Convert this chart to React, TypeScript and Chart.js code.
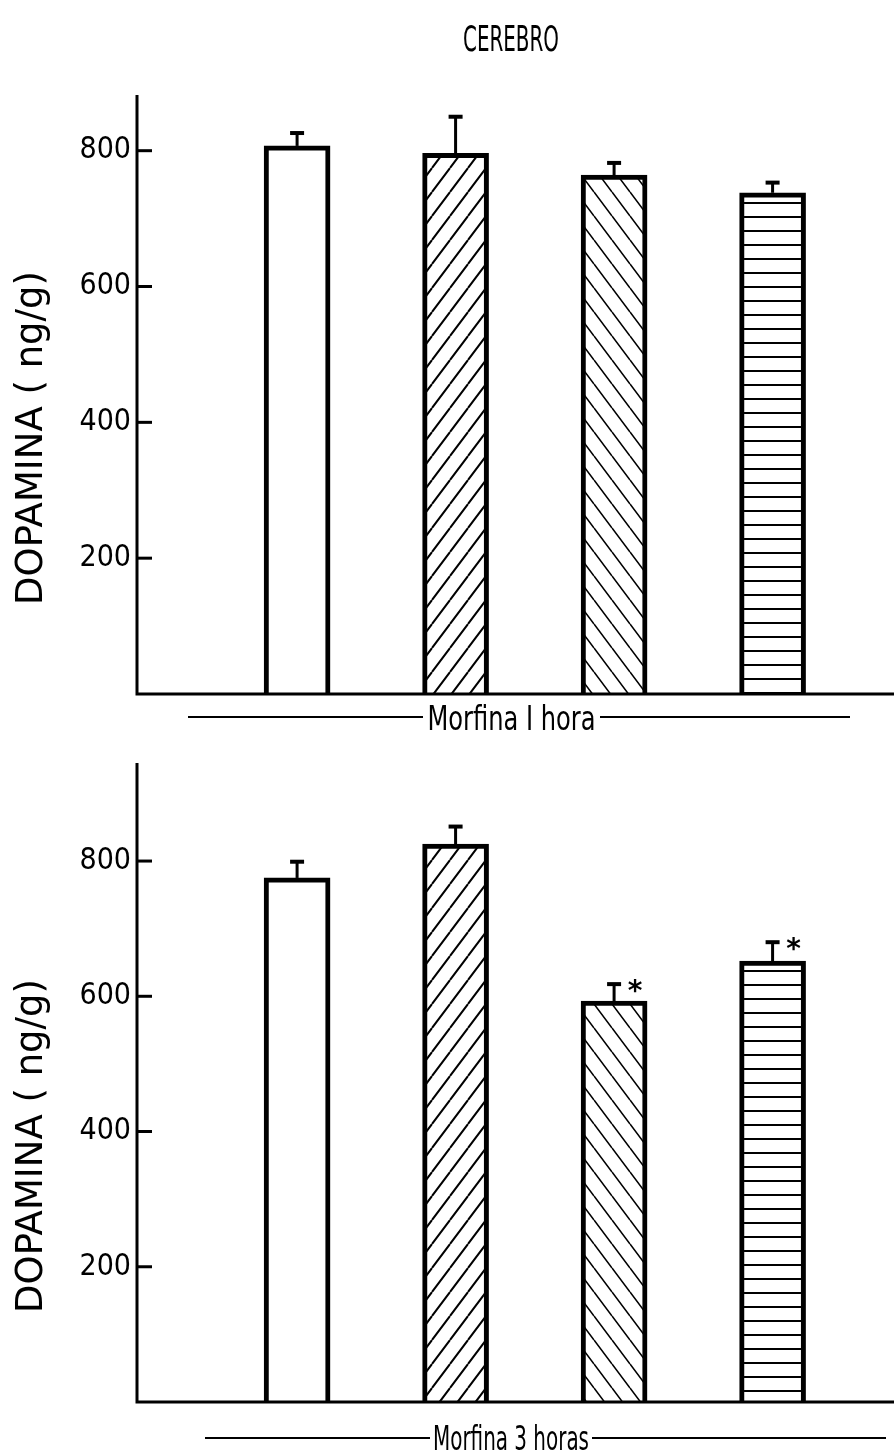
import React, { useEffect, useRef } from 'react';
import { Chart, registerables } from 'chart.js';

Chart.register(...registerables);

// ---- data ----
const GROUPS = ['Grupo 1', 'Grupo 2', 'Grupo 3', 'Grupo 4'];
const GROUP_INDEX = [1, 2, 3, 4];
const Y_TICKS = [200, 400, 600, 800];
const TITLE = 'CEREBRO';
const Y_TITLE = 'DOPAMINA ( ng/g)';
const PANEL1_LABEL = 'Morfina I hora';
const PANEL2_LABEL = 'Morfina 3 horas';
const PANEL1_MEANS = [807, 796, 764, 738];
const PANEL1_SEM = [19, 54, 18, 15];
const PANEL1_SIGNIF = [false, false, false, false];
const PANEL2_MEANS = [775, 825, 593, 652];
const PANEL2_SEM = [24, 26, 25, 28];
const PANEL2_SIGNIF = [false, false, true, true];
const FILLS = ['none', 'fwd', 'back', 'horiz'];

type Panel = {
  top: number;
  height: number;
  padTop: number;
  padBottom: number;
  yMax: number;
  means: number[];
  sem: number[];
  signif: boolean[];
  label: string;
  labelY: number;
  labelWidth: number;
  lineL: [number, number];
  lineR: [number, number];
  lineY: number;
  showTitle: boolean;
};

const PANELS: Panel[] = [
  {
    top: 0, height: 740, padTop: 95, padBottom: 46, yMax: 882,
    means: PANEL1_MEANS, sem: PANEL1_SEM, signif: PANEL1_SIGNIF,
    label: PANEL1_LABEL, labelY: 730, labelWidth: 168,
    lineL: [188, 423], lineR: [600, 850], lineY: 717, showTitle: true,
  },
  {
    top: 740, height: 714, padTop: 23, padBottom: 52, yMax: 945,
    means: PANEL2_MEANS, sem: PANEL2_SEM, signif: PANEL2_SIGNIF,
    label: PANEL2_LABEL, labelY: 1450, labelWidth: 156,
    lineL: [205, 430], lineR: [592, 886], lineY: 1438, showTitle: false,
  },
];

function makeFill(kind: string): any {
  if (kind === 'none') return '#ffffff';
  const c = document.createElement('canvas');
  let w = 18, h = 24;
  if (kind === 'horiz') { w = 8; h = 14; }
  c.width = w; c.height = h;
  const g = c.getContext('2d')!;
  g.fillStyle = '#fff';
  g.fillRect(0, 0, w, h);
  g.strokeStyle = '#000';
  g.lineWidth = kind === 'back' ? 1.6 : 2;
  g.beginPath();
  if (kind === 'fwd') {
    for (const dx of [-w, 0, w]) { g.moveTo(dx, h); g.lineTo(dx + w, 0); }
  } else if (kind === 'back') {
    for (const dx of [-w, 0, w]) { g.moveTo(dx, 0); g.lineTo(dx + w, h); }
  } else {
    g.moveTo(0, h / 2); g.lineTo(w, h / 2);
  }
  g.stroke();
  return g.createPattern(c, 'repeat');
}

function PanelChart({ p }: { p: Panel }) {
  const ref = useRef<HTMLCanvasElement>(null);
  useEffect(() => {
    const canvas = ref.current!;
    const decor = {
      id: 'decor',
      afterDatasetsDraw(chart: any) {
        const ctx = chart.ctx as CanvasRenderingContext2D;
        const ca = chart.chartArea;
        const ys = chart.scales.y;
        ctx.save();
        ctx.strokeStyle = '#000';
        ctx.fillStyle = '#000';
        ctx.lineCap = 'butt';
        // axes
        ctx.lineWidth = 3;
        ctx.beginPath();
        ctx.moveTo(ca.left, ca.top);
        ctx.lineTo(ca.left, ca.bottom + 1.5);
        ctx.moveTo(ca.left - 1.5, ca.bottom);
        ctx.lineTo(ca.right, ca.bottom);
        ctx.stroke();
        // tick marks (inside)
        ctx.lineWidth = 3;
        for (const v of Y_TICKS) {
          const py = ys.getPixelForValue(v);
          ctx.beginPath();
          ctx.moveTo(ca.left, py);
          ctx.lineTo(ca.left + 15, py);
          ctx.stroke();
        }
        // error bars + asterisks
        const meta = chart.getDatasetMeta(0);
        meta.data.forEach((el: any, i: number) => {
          const cx = el.x;
          const top = el.y;
          const ep = ys.getPixelForValue(p.means[i] + p.sem[i]);
          ctx.lineWidth = 3;
          ctx.beginPath();
          ctx.moveTo(cx, top);
          ctx.lineTo(cx, ep);
          ctx.stroke();
          ctx.lineWidth = 4;
          ctx.beginPath();
          ctx.moveTo(cx - 7, ep);
          ctx.lineTo(cx + 7, ep);
          ctx.stroke();
          if (p.signif[i]) {
            ctx.font = 'bold 28px "DejaVu Sans"';
            ctx.textAlign = 'center';
            ctx.textBaseline = 'middle';
            ctx.fillText('*', cx + 21, ep + 9);
          }
        });
        // y title
        ctx.save();
        ctx.translate(42, ca.bottom - 256);
        ctx.rotate(-Math.PI / 2);
        ctx.font = '37px "DejaVu Sans"';
        ctx.textAlign = 'center';
        ctx.textBaseline = 'alphabetic';
        ctx.fillText(Y_TITLE, 0, 0, 345);
        ctx.restore();
        // group label with lines
        const off = p.top;
        ctx.lineWidth = 2;
        ctx.beginPath();
        ctx.moveTo(p.lineL[0], p.lineY - off);
        ctx.lineTo(p.lineL[1], p.lineY - off);
        ctx.moveTo(p.lineR[0], p.lineY - off);
        ctx.lineTo(p.lineR[1], p.lineY - off);
        ctx.stroke();
        ctx.font = '34px "DejaVu Sans Condensed"';
        ctx.textAlign = 'center';
        ctx.textBaseline = 'alphabetic';
        ctx.fillText(p.label, (p.lineL[1] + p.lineR[0]) / 2, p.labelY - off, p.labelWidth);
        if (p.showTitle) {
          ctx.font = '35px "DejaVu Sans Condensed"';
          ctx.fillText(TITLE, 511, 51, 96);
        }
        ctx.restore();
      },
    };
    const chart = new Chart(canvas, {
      type: 'bar',
      data: {
        labels: GROUPS,
        datasets: [
          {
            data: p.means.map((v, i) => ({ x: GROUP_INDEX[i], y: v })),
            backgroundColor: FILLS.map(makeFill),
            borderColor: '#000',
            borderWidth: 5,
            barThickness: 66,
          } as any,
        ],
      },
      options: {
        animation: false,
        responsive: false,
        maintainAspectRatio: false,
        layout: { padding: { top: p.padTop, bottom: p.padBottom, left: 0, right: 0 } },
        plugins: { legend: { display: false }, tooltip: { enabled: false }, title: { display: false } },
        scales: {
          x: { type: 'linear', min: -0.01, max: 4.766, display: false, offset: false },
          y: {
            min: 0,
            max: p.yMax,
            afterFit: (s: any) => { s.width = 137; },
            afterBuildTicks: (s: any) => { s.ticks = Y_TICKS.map((v) => ({ value: v })); },
            grid: { display: false },
            border: { display: false },
            ticks: {
              font: { family: '"DejaVu Sans Condensed"', size: 30 },
              color: '#000',
              padding: -2,
            },
          },
        },
      } as any,
      plugins: [decor],
    });
    return () => chart.destroy();
  }, [p]);
  return (
    <canvas
      ref={ref}
      width={894}
      height={p.height}
      style={{ position: 'absolute', left: 0, top: p.top, width: 894, height: p.height, display: 'block' }}
    />
  );
}

export default function App() {
  return (
    <div style={{ position: 'absolute', left: 0, top: 0, width: 894, height: 1454, background: '#fff' }}>
      {PANELS.map((p, i) => (
        <PanelChart key={i} p={p} />
      ))}
    </div>
  );
}
